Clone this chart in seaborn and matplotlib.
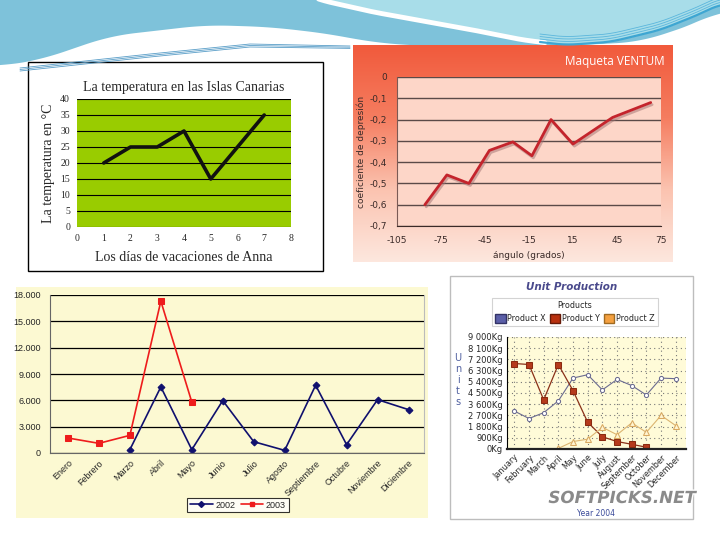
import numpy as np
import pandas as pd
import matplotlib
matplotlib.use('Agg')
import matplotlib.pyplot as plt
import matplotlib.patheffects as pe
from matplotlib.patches import Rectangle, Patch
from matplotlib.lines import Line2D
from matplotlib.colors import LinearSegmentedColormap
from matplotlib.ticker import FuncFormatter
import seaborn as sns

# chart 1: temperatura
temp_dias = [1, 2, 3, 4, 5, 6, 7]
temp_grados = [20, 25, 25, 30, 15, 25, 35]

# chart 2: Maqueta VENTUM
ventum_angulo = [-86, -71, -56, -42, -26, -13, 0, 15, 42, 68]
ventum_coef = [-0.60, -0.46, -0.50, -0.345, -0.305, -0.37, -0.20, -0.315, -0.19, -0.12]

# chart 3: meses 2002 / 2003
meses = ['Enero', 'Febrero', 'Marzo', 'Abril', 'Mayo', 'Junio', 'Julio', 'Agosto',
         'Septiembre', 'Octubre', 'Noviembre', 'Diciembre']
ventas_2002 = [np.nan, np.nan, 380, 7530, 380, 5970, 1290, 300, 7720, 950, 6080, 4940]
ventas_2003 = [1710, 1100, 2010, 17300, 5810, np.nan, np.nan, np.nan, np.nan, np.nan, np.nan, np.nan]

# chart 4: Unit Production
months = ['January', 'February', 'March', 'April', 'May', 'June', 'July', 'August',
          'September', 'October', 'November', 'December']
prod_x = [3050, 2450, 2920, 3870, 5700, 5970, 4750, 5590, 5100, 4340, 5700, 5650]
prod_y = [6870, 6790, 3950, 6790, 4690, 2150, 980, 600, 380, 140, np.nan, np.nan]
prod_z = [np.nan, np.nan, np.nan, 50, 600, 790, 1745, 1145, 2100, 1340, 2700, 1880]

sns.set_style('white')
plt.rcParams['font.family'] = ['DejaVu Sans']
plt.rcParams['axes.unicode_minus'] = False

fig = plt.figure(figsize=(7.2, 5.4), dpi=100)
fig.patch.set_facecolor('white')


def px_axes(x0, y0, x1, y1):
    return fig.add_axes([x0 / 720, 1 - y1 / 540, (x1 - x0) / 720, (y1 - y0) / 540])


def smooth_curve(xs, px, py, k=25):
    y = np.interp(xs, px, py)
    pad = np.pad(y, k, mode='edge')
    return np.convolve(pad, np.ones(2 * k + 1) / (2 * k + 1), mode='same')[k:-k]


# ---- slide background (swoosh) ----
bg = fig.add_axes([0, 0, 1, 1])
bg.set_xlim(0, 720)
bg.set_ylim(540, 0)
bg.axis('off')

xs = np.linspace(0, 720, 721)
L = smooth_curve(xs, [0, 40, 110, 206, 270, 330, 370, 420, 560, 640, 700, 720],
                 [66, 60, 36, 25, 27, 34, 42, 46, 46, 42, 22, 10])
bg.fill_between(xs, 0, L, color='#7ec2da', lw=0)
W = smooth_curve(xs, [300, 320, 373, 473, 523, 565, 610, 660, 700, 720, 740],
                 [-8, 0, 12, 30, 40, 45, 42, 30, 14, 4, -4], k=12)
m = xs >= 318
bg.fill_between(xs[m], -2, W[m], color='#a8dde9', lw=0)
mw = (xs >= 318) & (xs <= 545)
bg.plot(xs[mw], W[mw], color='white', lw=3.5)
mb = xs >= 540
bg.plot(xs[mb], W[mb], color='#3ea6d2', lw=1.6)
for k in range(3):
    bg.plot(xs[mb], W[mb] - 3 - 2.5 * k, color='#5bb6dc', lw=0.6)
    bg.plot([20, 150, 250, 350], [68 + k * 1.5, 54 + k * 1.5, 44 + k * 1.5, 46 + k * 1.2],
            color='#5a9ec8', lw=0.6)

# panels
bg.add_patch(Rectangle((28, 62), 295, 209, facecolor='white', edgecolor='black', lw=1))
grad = np.linspace(0, 1, 200).reshape(-1, 1)
cm = LinearSegmentedColormap.from_list('ventum', ['#f15a3c', '#f57d60', '#fbc3b0', '#fde7de'])
bg.imshow(grad, extent=(353, 673, 262, 45), cmap=cm, aspect='auto', zorder=1)
bg.add_patch(Rectangle((16, 287), 412, 231, facecolor='#fcf9d2', edgecolor='none'))
bg.add_patch(Rectangle((450, 276), 243, 243, facecolor='white', edgecolor='#bdbdbd', lw=1))
bg.set_xlim(0, 720)
bg.set_ylim(540, 0)

# ---- chart 1 ----
serif = ['Liberation Serif', 'DejaVu Serif']
ax1 = px_axes(77, 99, 291, 227)
ax1.set_facecolor('#99cc00')
sns.lineplot(x=temp_dias, y=temp_grados, ax=ax1, color='#111111', linewidth=2.6)
ax1.set_xlim(0, 8)
ax1.set_ylim(0, 40)
ax1.set_yticks(range(0, 41, 5))
ax1.set_xticks(range(0, 9))
ax1.grid(axis='y', color='black', lw=0.8)
ax1.grid(axis='x', visible=False)
for s in ax1.spines.values():
    s.set_visible(False)
ax1.tick_params(length=0, labelsize=7, pad=5)
for t in ax1.get_xticklabels() + ax1.get_yticklabels():
    t.set_family(serif)
ax1.set_title('La temperatura en las Islas Canarias', family=serif, fontsize=10, pad=6)
ax1.set_ylabel('La temperatura en °C', family=serif, fontsize=10, labelpad=4)
ax1.set_xlabel('Los días de vacaciones de Anna', family=serif, fontsize=10, labelpad=6)

# ---- chart 2 ----
ax2 = px_axes(397, 77, 661, 226)
ax2.set_facecolor('#fdd6c8')
sns.lineplot(x=ventum_angulo, y=ventum_coef, ax=ax2, color='#c4242c', linewidth=2)
ax2.lines[-1].set_path_effects([pe.SimpleLineShadow(offset=(1, -1.5), shadow_color='#a07070', alpha=0.5),
                                pe.Normal()])
ax2.set_xlim(-105, 75)
ax2.set_ylim(-0.7, 0)
ax2.set_xticks(range(-105, 76, 30))
ax2.set_yticks(np.arange(-0.7, 0.01, 0.1))
ax2.yaxis.set_major_formatter(FuncFormatter(lambda v, p: '0' if abs(v) < 1e-9 else f'{v:.1f}'.replace('.', ',')))
ax2.grid(axis='y', color='#5a4a48', lw=1)
ax2.grid(axis='x', visible=False)
for k in ['top', 'right']:
    ax2.spines[k].set_visible(False)
ax2.spines['left'].set_color('#7a5a55')
ax2.spines['bottom'].set_color('#3a2a28')
ax2.tick_params(axis='x', direction='inout', length=7, color='#3a2a28', labelsize=6.5, pad=4)
ax2.tick_params(axis='y', length=0, labelsize=6.5, pad=7)
for t in ax2.get_xticklabels() + ax2.get_yticklabels():
    t.set_color('#3a2a28')
ax2.set_ylabel('coeficiente de depresión', fontsize=6.5, color='#3a2a28', labelpad=3)
ax2.set_xlabel('ángulo (grados)', fontsize=6.5, color='#3a2a28', labelpad=4)
fig.text(615 / 720, 1 - 62 / 540, 'Maqueta VENTUM', color='white', fontsize=8.5,
         ha='center', va='center', family=['Open Sans', 'DejaVu Sans'])

# ---- chart 3 ----
sans = ['Liberation Sans', 'DejaVu Sans']
ax3 = px_axes(50, 295, 424, 453)
ax3.set_facecolor('#fcf9d2')
pos = np.arange(len(meses))
sns.lineplot(x=pos, y=ventas_2002, ax=ax3, color='#10106e', linewidth=1.2,
             marker='D', markersize=3.5, markeredgecolor='#10106e')
sns.lineplot(x=pos, y=ventas_2003, ax=ax3, color='#ee1c1c', linewidth=1.2,
             marker='s', markersize=4, markeredgecolor='#ee1c1c')
ax3.set_xlim(-0.58, 11.48)
ax3.set_ylim(0, 18000)
ax3.set_yticks(range(0, 18001, 3000))
ax3.yaxis.set_major_formatter(FuncFormatter(lambda v, p: f'{int(v):,}'.replace(',', '.')))
ax3.set_xticks(pos)
ax3.set_xticklabels(meses, rotation=45, ha='right', rotation_mode='anchor')
ax3.set_xticks(np.arange(-0.5, 11.6, 1), minor=True)
ax3.tick_params(axis='x', which='major', length=0, labelsize=6.5, pad=4)
ax3.tick_params(axis='x', which='minor', length=3, color='#555555')
ax3.tick_params(axis='y', length=3, labelsize=6.5, color='#555555')
for t in ax3.get_xticklabels() + ax3.get_yticklabels():
    t.set_family(sans)
ax3.grid(axis='y', color='black', lw=0.9)
ax3.grid(axis='x', visible=False)
ax3.spines['top'].set_visible(False)
ax3.spines['left'].set_color('#666666')
ax3.spines['bottom'].set_color('#666666')
ax3.spines['right'].set_color('#bbbbbb')
ax3.set_xlabel('')
h3 = [Line2D([], [], color='#10106e', marker='D', markersize=3, lw=1.2),
      Line2D([], [], color='#ee1c1c', marker='s', markersize=3.5, lw=1.2)]
leg3 = fig.legend(h3, ['2002', '2003'], loc='center', bbox_to_anchor=(238 / 720, 1 - 505 / 540),
                  ncol=2, frameon=True, fancybox=False, edgecolor='black',
                  handlelength=2.5, columnspacing=0.6, borderpad=0.3, handletextpad=0.3,
                  prop={'family': sans, 'size': 6.5})
leg3.get_frame().set_facecolor('white')
leg3.get_frame().set_linewidth(0.8)

# ---- chart 4 ----
ax4 = px_axes(507, 337, 686, 449)
ax4.set_facecolor('#fffbd8')
pos4 = np.arange(len(months))
sns.lineplot(x=pos4, y=prod_x, ax=ax4, color='#6a6a90', linewidth=0.8,
             marker='o', markersize=3, markerfacecolor='white', markeredgecolor='#6a6a90')
sns.lineplot(x=pos4, y=prod_y, ax=ax4, color='#8a3018', linewidth=0.9,
             marker='s', markersize=5, markerfacecolor='#b53a1c', markeredgecolor='#8a2a10')
sns.lineplot(x=pos4, y=prod_z, ax=ax4, color='#dcb470', linewidth=0.8,
             marker='^', markersize=4.5, markerfacecolor='#fff4d0', markeredgecolor='#d8a860')
ax4.set_xlim(-0.5, 11.7)
ax4.set_ylim(0, 9000)
ax4.set_yticks(range(0, 9001, 900))
ax4.yaxis.set_major_formatter(FuncFormatter(lambda v, p: f'{int(v):,}'.replace(',', ' ') + 'Kg'))
ax4.set_xticks(pos4)
ax4.set_xticklabels(months, rotation=45, ha='right', rotation_mode='anchor')
ax4.tick_params(axis='y', length=0, labelsize=6, pad=3)
ax4.tick_params(axis='x', length=0, labelsize=5.9, pad=3)
ax4.grid(True, color='#777777', lw=0.8, linestyle=(0, (1, 3)))
for k in ['top', 'right']:
    ax4.spines[k].set_visible(False)
ax4.spines['left'].set_color('black')
ax4.spines['bottom'].set_color('#222222')
ax4.spines['bottom'].set_linewidth(1.6)
ax4.set_xlabel('')
fig.text(572 / 720, 1 - 287 / 540, 'Unit Production', fontsize=7.5, style='italic',
         weight='bold', color='#4a4a8c', ha='center', va='center')
h4 = [Patch(facecolor='#5b5fa8', edgecolor='#333366'),
      Patch(facecolor='#b8300e', edgecolor='#661a08'),
      Patch(facecolor='#f4a040', edgecolor='#a06a20')]
leg4 = fig.legend(h4, ['Product X', 'Product Y', 'Product Z'], loc='center',
                  bbox_to_anchor=(575 / 720, 1 - 312 / 540), ncol=3, fontsize=5.8,
                  title='Products', title_fontsize=5.8, frameon=True, fancybox=False,
                  edgecolor='#c8c8c8', handlelength=1.3, handleheight=1.3,
                  columnspacing=0.5, handletextpad=0.2, borderpad=0.35)
leg4.get_frame().set_linewidth(0.8)
fig.text(458 / 720, 1 - 380 / 540, 'U\nn\ni\nt\ns', fontsize=7, color='#5060a0',
         ha='center', va='center', linespacing=1.15)
fig.text(622 / 720, 1 - 498 / 540, 'SOFTPICKS.NET', fontsize=12, style='italic', weight='bold',
         color='#8a8a8a', ha='center', va='center',
         path_effects=[pe.withStroke(linewidth=2, foreground='white')])
fig.text(596 / 720, 1 - 513 / 540, 'Year 2004', fontsize=5.5, color='#3a4a9a', ha='center', va='center')

fig.savefig('out.png', dpi=100)
